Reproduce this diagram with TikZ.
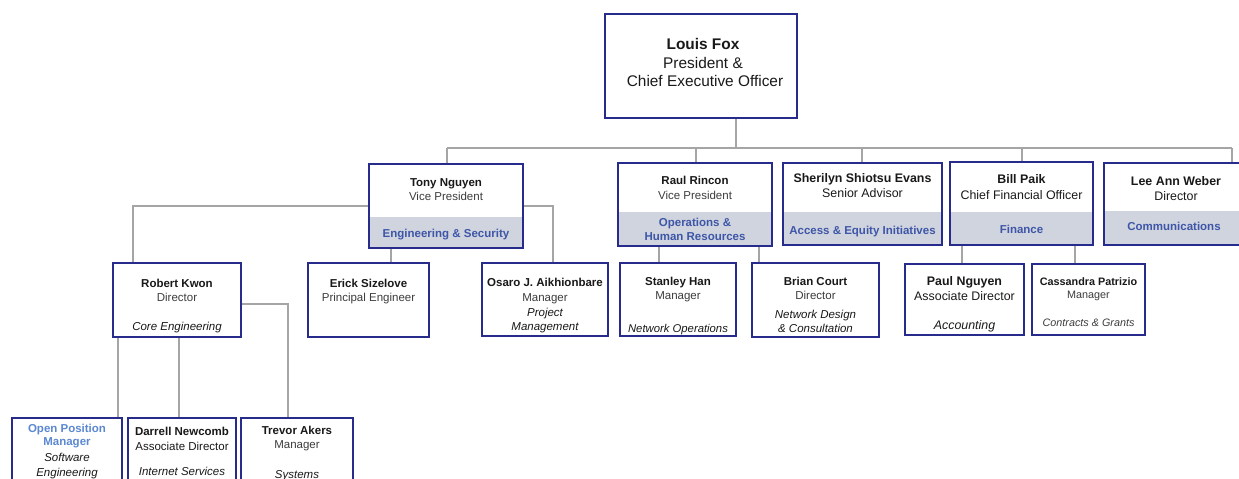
\documentclass[tikz,border=0pt]{standalone}
\usepackage{fontspec}
\setmainfont{Liberation Sans}
\usetikzlibrary{backgrounds}
\definecolor{navy}{RGB}{38,43,140}
\definecolor{bandgray}{RGB}{208,212,222}
\definecolor{bandblue}{RGB}{62,86,168}
\definecolor{openblue}{RGB}{92,136,210}
\definecolor{linegray}{RGB}{165,165,165}
\definecolor{namecol}{RGB}{25,25,25}
\definecolor{titlecol}{RGB}{60,60,60}
\newcommand\fsz[1]{\fontsize{#1}{#1}\selectfont}
\begin{document}
\begin{tikzpicture}[x=1pt,y=-1pt,
  obox/.style={draw=navy,line width=2pt,fill=white,inner sep=0pt,outer sep=0pt},
  banded/.style={path picture={\fill[bandgray] (path picture bounding box.south west) rectangle ([yshift=#1pt]path picture bounding box.south east);}},
  conn/.style={draw=linegray,line width=1.8pt},
  txt/.style={anchor=base,inner sep=0pt,text=titlecol},
  nm/.style={txt,text=namecol,font=\bfseries\fsz{#1}},
  tl/.style={txt,font=\fsz{#1}},
  it/.style={txt,text=namecol,font=\itshape\fsz{#1}},
  bd/.style={txt,text=bandblue,font=\bfseries\fsz{11.5}}]
\useasboundingbox (0,0) rectangle (1239,479);
\clip (0,0) rectangle (1239,479);

% junction points of the connector lines
\coordinate (busW) at (447,148);
\coordinate (busE) at (1232,148);
\coordinate (jceo) at (736,148);
\coordinate (jraul) at (696,148);
\coordinate (jsher) at (862,148);
\coordinate (jbill) at (1022,148);
\coordinate (tonyL) at (133,206);
\coordinate (tonyR) at (553,206);
\coordinate (tonyD) at (391,0);
\coordinate (raulA) at (659,0);
\coordinate (raulB) at (759,0);
\coordinate (billA) at (962,0);
\coordinate (billB) at (1075,0);
\coordinate (robR) at (288,304);
\coordinate (robA) at (118,0);
\coordinate (robB) at (179,0);

% boxes
\node[obox,minimum width=192pt,minimum height=104pt] (ceo) at (701,66) {};
\node[obox,banded=31,minimum width=154pt,minimum height=84pt] (tony) at (446,206) {};
\node[obox,banded=34,minimum width=154pt,minimum height=83pt] (raul) at (695,204.5) {};
\node[obox,banded=33,minimum width=159pt,minimum height=82pt] (sher) at (862.5,204) {};
\node[obox,banded=33,minimum width=143pt,minimum height=83pt] (bill) at (1021.5,203.5) {};
\node[obox,banded=34,minimum width=144pt,minimum height=82pt] (leeann) at (1176,204) {};
\node[obox,minimum width=128pt,minimum height=74pt] (robert) at (177,300) {};
\node[obox,minimum width=121pt,minimum height=74pt] (erick) at (368.5,300) {};
\node[obox,minimum width=126pt,minimum height=73pt] (osaro) at (545,299.5) {};
\node[obox,minimum width=116pt,minimum height=73pt] (stanley) at (678,299.5) {};
\node[obox,minimum width=127pt,minimum height=74pt] (brian) at (815.5,300) {};
\node[obox,minimum width=119pt,minimum height=71pt] (paul) at (964.5,299.5) {};
\node[obox,minimum width=113pt,minimum height=71pt] (cass) at (1088.5,299.5) {};
\node[obox,minimum width=110pt,minimum height=82pt] (open) at (67,459) {};
\node[obox,minimum width=108pt,minimum height=82pt] (darrell) at (182,459) {};
\node[obox,minimum width=112pt,minimum height=82pt] (trevor) at (297,459) {};

% connectors, kept behind the boxes
\begin{scope}[on background layer]
\draw[conn] (ceo.south -| jceo) -- (jceo);
\draw[conn] (busW) -- (busE);
\draw[conn] (busW) -- (tony.north -| busW);
\draw[conn] (jraul) -- (raul.north -| jraul);
\draw[conn] (jsher) -- (sher.north -| jsher);
\draw[conn] (jbill) -- (bill.north -| jbill);
\draw[conn] (busE) -- (leeann.north -| busE);
\draw[conn] (tony.west |- tonyL) -- (tonyL) -- (robert.north -| tonyL);
\draw[conn] (tony.east |- tonyR) -- (tonyR) -- (osaro.north -| tonyR);
\draw[conn] (tony.south -| tonyD) -- (erick.north -| tonyD);
\draw[conn] (raul.south -| raulA) -- (stanley.north -| raulA);
\draw[conn] (raul.south -| raulB) -- (brian.north -| raulB);
\draw[conn] (bill.south -| billA) -- (paul.north -| billA);
\draw[conn] (bill.south -| billB) -- (cass.north -| billB);
\draw[conn] (robert.east |- robR) -- (robR) -- (trevor.north -| robR);
\draw[conn] (robert.south -| robA) -- (open.north -| robA);
\draw[conn] (robert.south -| robB) -- (darrell.north -| robB);
\end{scope}

% texts
\node[nm=15.4] (ceo-n) at (703,49.5) {Louis Fox};
\node[tl=15.4,text=namecol] (ceo-t1) at (703,68.5) {President \&};
\node[tl=15.4,text=namecol] (ceo-t2) at (705,86.5) {Chief Executive Officer};

\node[nm=11.5] (tony-n) at (446,186) {Tony Nguyen};
\node[tl=11.5] (tony-t) at (446,200) {Vice President};
\node[bd] (tony-d) at (446,237) {Engineering \& Security};

\node[nm=11.5] (raul-n) at (695,184) {Raul Rincon};
\node[tl=11.5] (raul-t) at (695,199) {Vice President};
\node[bd] (raul-d1) at (695,226) {Operations \&};
\node[bd] (raul-d2) at (695,240) {Human Resources};

\node[nm=12.4] (sher-n) at (862.5,182.5) {Sherilyn Shiotsu Evans};
\node[tl=12.4,text=namecol] (sher-t) at (862.5,197.5) {Senior Advisor};
\node[bd] (sher-d) at (862.5,234) {Access \& Equity Initiatives};

\node[nm=12.4] (bill-n) at (1021.5,183.5) {Bill Paik};
\node[tl=12.4,text=namecol] (bill-t) at (1021.5,199.5) {Chief Financial Officer};
\node[bd] (bill-d) at (1021.5,233) {Finance};

\node[nm=12.4] (leeann-n) at (1176,185.5) {Lee Ann Weber};
\node[tl=12.4,text=namecol] (leeann-t) at (1176,200.5) {Director};
\node[bd] (leeann-d) at (1174,230) {Communications};

\node[nm=11.5] (robert-n) at (177,287) {Robert Kwon};
\node[tl=11.5] (robert-t) at (177,301) {Director};
\node[it=11.5] (robert-d) at (177,330) {Core Engineering};

\node[nm=11.5] (erick-n) at (368.5,287) {Erick Sizelove};
\node[tl=11.5] (erick-t) at (368.5,301) {Principal Engineer};

\node[nm=11.5] (osaro-n) at (545,286) {Osaro J. Aikhionbare};
\node[tl=11.5] (osaro-t) at (545,301) {Manager};
\node[it=11.5] (osaro-d1) at (545,316) {Project};
\node[it=11.5] (osaro-d2) at (545,330) {Management};

\node[nm=11.5] (stanley-n) at (678,285) {Stanley Han};
\node[tl=11.5] (stanley-t) at (678,299) {Manager};
\node[it=11.3] (stanley-d) at (678,332) {Network Operations};

\node[nm=11.5] (brian-n) at (815.5,285) {Brian Court};
\node[tl=11.5] (brian-t) at (815.5,299) {Director};
\node[it=11.5] (brian-d1) at (815.5,318) {Network Design};
\node[it=11.5] (brian-d2) at (815.5,332) {\& Consultation};

\node[nm=12.4] (paul-n) at (964.5,285.5) {Paul Nguyen};
\node[tl=12.4,text=namecol] (paul-t) at (964.5,300.5) {Associate Director};
\node[it=12.4] (paul-d) at (964.5,329.5) {Accounting};

\node[nm=10.8] (cass-n) at (1088.5,285) {Cassandra Patrizio};
\node[tl=10.8] (cass-t) at (1088.5,298) {Manager};
\node[it=10.8,text=titlecol] (cass-d) at (1088.5,326) {Contracts \& Grants};

\node[nm=11.5,text=openblue] (open-n) at (67,432) {Open Position};
\node[nm=11.5,text=openblue] (open-t) at (67,445) {Manager};
\node[it=11.5] (open-d1) at (67,461) {Software};
\node[it=11.5] (open-d2) at (67,476) {Engineering};

\node[nm=11.5] (darrell-n) at (182,435) {Darrell Newcomb};
\node[tl=11.5,text=namecol] (darrell-t) at (182,450) {Associate Director};
\node[it=11.5] (darrell-d) at (182,475) {Internet Services};

\node[nm=11.5] (trevor-n) at (297,434) {Trevor Akers};
\node[tl=11.5] (trevor-t) at (297,448) {Manager};
\node[it=11.5] (trevor-d) at (297,478) {Systems};
\end{tikzpicture}
\end{document}
